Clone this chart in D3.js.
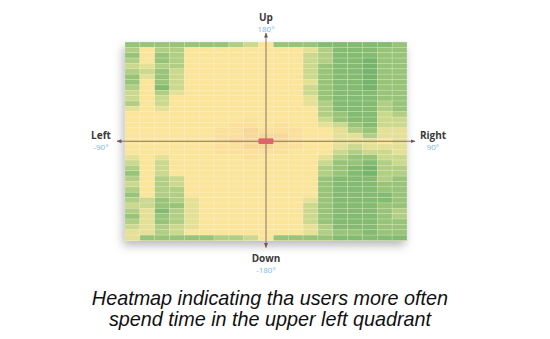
<!DOCTYPE html>
<html>
<head>
<meta charset="utf-8">
<script src="https://cdn.jsdelivr.net/npm/d3@7"></script>
<style>
  html, body { margin: 0; padding: 0; background: #fff; }
  svg { display: block; }
</style>
</head>
<body>
<svg id="chart" width="550" height="339"></svg>
<script>
// Gaze-direction dwell levels, 0 (rarely looked at) … 9 (most time spent).
// Columns run from -90° (left) to 90° (right); rows from 180° (up) to -180° (down).
const columns = d3.range(19);

const upperRows = [
  "2222222346222111112",
  "3633666666665311122",
  "2623666666664311122",
  "3623666666664311022",
  "4533666666664211022",
  "3424666666664211022",
  "2524666666664211022",
  "2624666666665211022",
  "3614666666664211022",
  "4635666666664211122",
  "4646666666665211122",
  "3646666666665311132",
  "5656666666666311132",
  "6666666666666321143",
  "6666666676666421144",
  "6666666776766542144",
  "6666667787776653255",
  "6666667788876655355"
];

const horizonRow = "6666667889876655565";

const lowerRows = [
  "6666667788776654555",
  "6666667777766643445",
  "5656666676666532244",
  "4646666666666422134",
  "3646666666666321033",
  "2646666666666321033",
  "3634666666666211132",
  "4634666666666211122",
  "3633666666666211122",
  "2633666666666211112",
  "3423566666665211112",
  "4422566666664211122",
  "3513566666664211123",
  "2523566666664211123",
  "3523566666664211122",
  "4534566666665311122",
  "5534666666665322122",
  "5222223346222211111"
];

const directions = ["Up", "Left", "Right", "Down"];
const angleLabels = ["180°", "-90°", "90°", "-180°"];
const captionLines = [
  "Heatmap indicating tha users more often",
  "spend time in the upper left quadrant"
];

const grid = [...upperRows, horizonRow, ...lowerRows].map(s => Array.from(s, Number));
const rowIds = d3.range(grid.length);
const cells = [];
grid.forEach((row, r) => row.forEach((v, c) => cells.push({ r, c, v })));
const peak = d3.max(cells, d => d.v);

const svg = d3.select("#chart");

const x = d3.scaleBand().domain(columns).range([125, 407]);
const y = d3.scaleBand().domain(rowIds).range([42, 240.5]);

const color = d3.scaleLinear()
  .domain(d3.range(10))
  .range(["#74b46c", "#83bb72", "#98c47a", "#b1cf84", "#cad98d",
          "#e4e095", "#fbe59b", "#fae09a", "#f7d897", "#dd6468"])
  .interpolate(d3.interpolateRgb);

// soft drop shadow under the panel
const defs = svg.append("defs");
const shadow = defs.append("filter").attr("id", "panelShadow")
  .attr("x", "-20%").attr("y", "-20%").attr("width", "140%").attr("height", "150%");
shadow.append("feDropShadow")
  .attr("dx", -2).attr("dy", 5).attr("stdDeviation", 5)
  .attr("flood-color", "#000").attr("flood-opacity", 0.28);

const arrow = defs.append("marker").attr("id", "arrowHead")
  .attr("viewBox", "0 0 10 10").attr("refX", 9).attr("refY", 5)
  .attr("markerWidth", 5).attr("markerHeight", 5).attr("orient", "auto-start-reverse");
arrow.append("path").attr("d", "M0,1 L10,5 L0,9 Z").attr("fill", "#6f5d55");

const [x0, x1] = x.range();
const [y0, y1] = y.range();

svg.append("rect")
  .attr("x", x0).attr("y", y0).attr("width", x1 - x0).attr("height", y1 - y0)
  .attr("fill", "#fbe59b").attr("filter", "url(#panelShadow)");

const cellGroup = svg.append("g");
cellGroup.selectAll("rect").data(cells).join("rect")
  .attr("x", d => x(d.c)).attr("y", d => y(d.r))
  .attr("width", x.bandwidth()).attr("height", y.bandwidth())
  .attr("fill", d => color(d.v))
  .attr("stroke", "#ffffff").attr("stroke-opacity", 0.3).attr("stroke-width", 0.6);

// crosshair through the centre cell
const cx = x(columns[Math.floor(columns.length / 2)]) + x.bandwidth() / 2;
const cy = y(rowIds[Math.floor(rowIds.length / 2)]) + y.bandwidth() / 2;

const axes = svg.append("g").attr("stroke", "#8a7469").attr("stroke-width", 1);
axes.append("line")
  .attr("x1", x0 - 8).attr("x2", x1 + 8).attr("y1", cy).attr("y2", cy)
  .attr("marker-start", "url(#arrowHead)").attr("marker-end", "url(#arrowHead)");
axes.append("line")
  .attr("x1", cx).attr("x2", cx).attr("y1", y0 - 9).attr("y2", y1 + 7)
  .attr("marker-start", "url(#arrowHead)").attr("marker-end", "url(#arrowHead)");

// peak cell sits on top of the crosshair
svg.append("g").selectAll("rect").data(cells.filter(d => d.v === peak)).join("rect")
  .attr("x", d => x(d.c)).attr("y", d => y(d.r))
  .attr("width", x.bandwidth()).attr("height", y.bandwidth())
  .attr("rx", 1.2)
  .attr("fill", d => color(d.v));

// direction labels
const labelPos = [
  { x: cx, y: 21 },
  { x: 101, y: cy - 2 },
  { x: 433, y: cy - 2 },
  { x: cx, y: 262 }
];
const labels = svg.append("g").attr("text-anchor", "middle")
  .style("font-family", "'Open Sans', 'DejaVu Sans', sans-serif");
labels.selectAll("text.dir").data(directions).join("text").attr("class", "dir")
  .attr("x", (d, i) => labelPos[i].x).attr("y", (d, i) => labelPos[i].y)
  .attr("fill", "#3a3a3a").style("font-size", "10px").style("font-weight", 700)
  .text(d => d);
labels.selectAll("text.ang").data(angleLabels).join("text").attr("class", "ang")
  .attr("x", (d, i) => labelPos[i].x).attr("y", (d, i) => labelPos[i].y + 10.5)
  .attr("fill", "#7db7e2").style("font-size", "8px")
  .text(d => d);

// caption
svg.append("g").attr("text-anchor", "middle")
  .style("font-family", "'Liberation Sans', Arial, sans-serif")
  .style("font-style", "italic").style("font-size", "19.8px")
  .selectAll("text").data(captionLines).join("text")
  .attr("x", 270).attr("y", (d, i) => 305 + i * 21)
  .attr("fill", "#111")
  .text(d => d);
</script>
</body>
</html>
